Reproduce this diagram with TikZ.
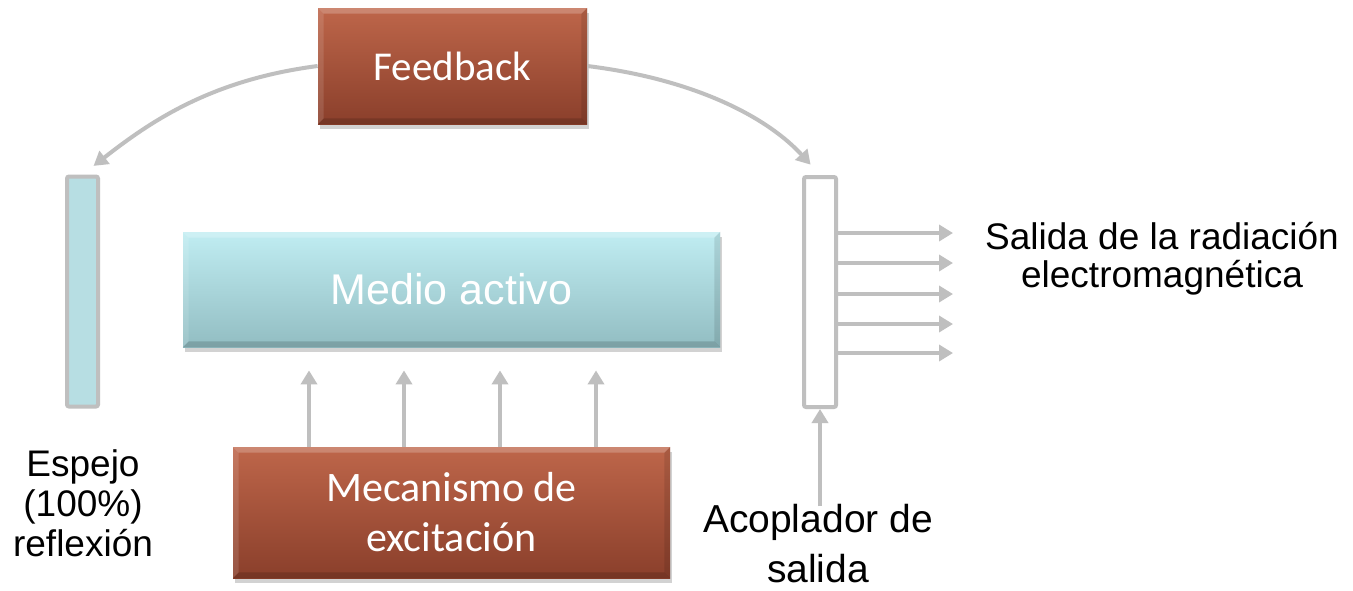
\documentclass[tikz,border=0pt]{standalone}
\usepackage{fontspec}
\setmainfont{Liberation Sans}
\newfontfamily\calib{Carlito}
\usetikzlibrary{arrows.meta,shadows}
\definecolor{brtop}{RGB}{190,102,74}
\definecolor{brbot}{RGB}{138,63,43}
\definecolor{cytop}{RGB}{192,237,242}
\definecolor{cybot}{RGB}{146,189,194}
\definecolor{mirfill}{RGB}{183,222,227}
\definecolor{lgray}{RGB}{191,191,191}
\newcommand\bevelbox[2]{%
 \fill[white,opacity=.22] (#1.north west) -- (#1.north east) -- ([xshift=-#2,yshift=-#2]#1.north east) -- ([xshift=#2,yshift=-#2]#1.north west) -- cycle;
 \fill[white,opacity=.12] (#1.north west) -- ([xshift=#2,yshift=-#2]#1.north west) -- ([xshift=#2,yshift=#2]#1.south west) -- (#1.south west) -- cycle;
 \fill[black,opacity=.15] (#1.south west) -- (#1.south east) -- ([xshift=-#2,yshift=#2]#1.south east) -- ([xshift=#2,yshift=#2]#1.south west) -- cycle;
 \fill[black,opacity=.10] (#1.north east) -- ([xshift=-#2,yshift=-#2]#1.north east) -- ([xshift=-#2,yshift=#2]#1.south east) -- (#1.south east) -- cycle;
}
\begin{document}
\begin{tikzpicture}[x=0.5pt,y=-0.5pt,
  boxshadow/.style={drop shadow={shadow xshift=1pt,shadow yshift=-2.5pt,opacity=.35}},
  brownbox/.style={rectangle, inner sep=0pt, top color=brtop, bottom color=brbot, draw=none, text=white, boxshadow},
  cyanbox/.style={rectangle, inner sep=0pt, top color=cytop, bottom color=cybot, draw=none, text=white, boxshadow},
  mirror/.style={rectangle, draw=lgray, line width=2pt, rounded corners=1pt, inner sep=0pt},
  lbl/.style={align=center, text=black, inner sep=0pt},
  arr/.style={draw=lgray, line width=2pt, -{Triangle[width=8pt,length=7pt]}}]
\useasboundingbox (0,0) rectangle (1353,590);
\fill[white] (0,0) rectangle (1353,590);

% boxes
\node[brownbox, minimum width=134.5pt, minimum height=58pt, font=\calib\fontsize{20.5pt}{24pt}\selectfont] (fb) at (452.5,66) {Feedback};
\bevelbox{fb}{3pt}
\node[cyanbox, minimum width=268.5pt, minimum height=57.5pt, font=\fontsize{21.5pt}{26pt}\selectfont] (med) at (451.5,289.5) {Medio activo};
\bevelbox{med}{3pt}
\node[brownbox, minimum width=218.5pt, minimum height=65.5pt, align=center, font=\calib\fontsize{21pt}{25pt}\selectfont] (mec) at (451.5,512.5) {\raisebox{-1pt}{Mecanismo de}\\\raisebox{-1pt}{excitación}};
\bevelbox{mec}{3pt}

% mirrors
\node[mirror, fill=mirfill, minimum width=15.5pt, minimum height=115pt] (esp) at (82.5,291.5) {};
\node[mirror, fill=white, minimum width=16pt, minimum height=115pt] (acp) at (820,292) {};

% labels
\node[lbl, font=\fontsize{18.5pt}{20pt}\selectfont] (lesp) at (83,503) {Espejo\\(100\%)\\reflexión};
\node[lbl, font=\fontsize{19.5pt}{25pt}\selectfont] (lacp) at (818,544) {Acoplador de\\salida};
\node[lbl, font=\fontsize{18.5pt}{19pt}\selectfont] (lsal) at (1162,259) {Salida de la radiación\\electromagnética};

% feedback curves
\draw[arr, shorten >=7pt] (fb.west) .. controls (210,80) and (150,122) .. (esp.north);
\draw[arr, shorten >=7pt] (fb.east) .. controls (700,80) and (770,120) .. (acp.north);

% excitation arrows
\foreach \x in {309,404,500,596}
  \draw[arr, shorten >=11.5pt] (mec.north -| \x,0) -- (med.south -| \x,0);

% output arrows
\foreach \y in {233,263,294,324,353}{
  \coordinate (o\y) at (953,\y);
  \draw[arr] (acp.east |- o\y) -- (o\y);
}

% coupler input arrow
\coordinate (acin) at (820,506);
\draw[arr] (acin) -- (acp.south);
\end{tikzpicture}
\end{document}
